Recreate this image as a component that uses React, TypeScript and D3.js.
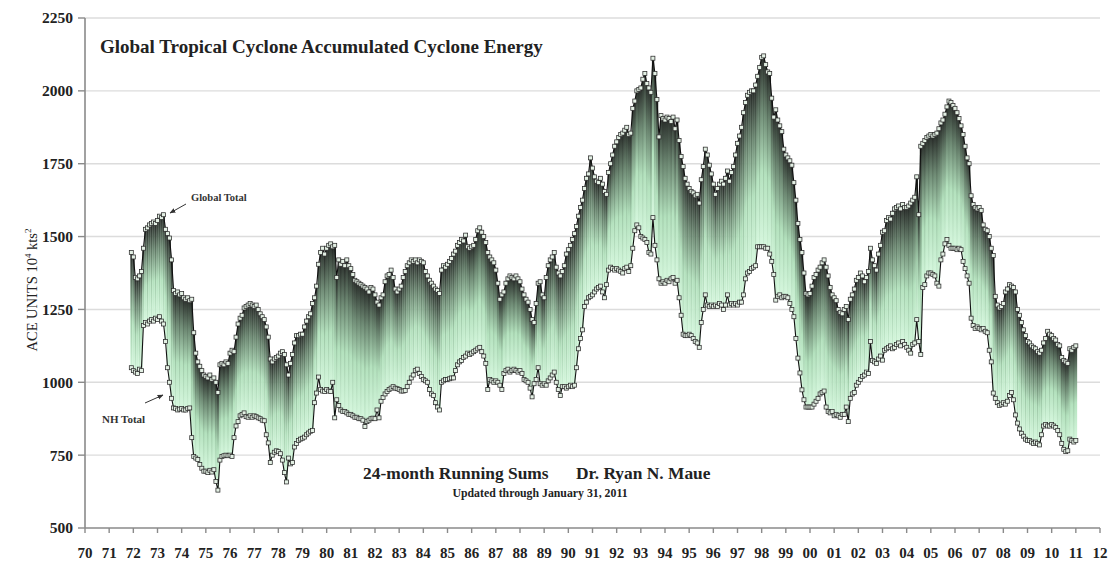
import React from "react";
import * as d3 from "d3";

// First month of data: December 1971 (decimal year of that month's slot)
const startYear = 1971 + 11 / 12;

// Global total ACE, 24-month running sums (monthly), Dec 1971 .. Jan 2011
const globalAce: number[] = [
  1445,
  1430, 1360, 1355, 1365, 1380, 1460, 1525, 1530, 1540, 1545, 1550, 1545, // 1972
  1555, 1570, 1565, 1575, 1525, 1510, 1495, 1420, 1315, 1305, 1310, 1300, // 1973
  1305, 1290, 1285, 1290, 1280, 1285, 1170, 1100, 1070, 1055, 1040, 1025, // 1974
  1020, 1015, 1025, 1010, 1015, 1000, 965, 1060, 1065, 1060, 1070, 1065, // 1975
  1100, 1110, 1105, 1155, 1200, 1220, 1230, 1255, 1260, 1265, 1270, 1265, // 1976
  1260, 1265, 1250, 1235, 1225, 1215, 1190, 1155, 1080, 1070, 1080, 1085, // 1977
  1090, 1100, 1105, 1095, 1060, 1025, 1065, 1095, 1135, 1160, 1160, 1165, // 1978
  1165, 1190, 1210, 1225, 1235, 1270, 1290, 1330, 1405, 1445, 1460, 1440, // 1979
  1460, 1470, 1475, 1465, 1470, 1360, 1420, 1405, 1415, 1400, 1420, 1400, // 1980
  1390, 1370, 1350, 1345, 1340, 1335, 1330, 1325, 1320, 1310, 1325, 1320, // 1981
  1300, 1275, 1265, 1290, 1300, 1345, 1365, 1370, 1385, 1360, 1320, 1310, // 1982
  1320, 1330, 1360, 1380, 1400, 1410, 1420, 1415, 1420, 1410, 1420, 1415, // 1983
  1410, 1380, 1365, 1350, 1340, 1330, 1320, 1315, 1305, 1385, 1400, 1395, // 1984
  1405, 1415, 1425, 1440, 1450, 1470, 1480, 1490, 1485, 1505, 1465, 1460, // 1985
  1465, 1470, 1490, 1520, 1530, 1515, 1500, 1480, 1445, 1430, 1420, 1410, // 1986
  1385, 1340, 1285, 1300, 1310, 1340, 1355, 1365, 1360, 1355, 1365, 1355, // 1987
  1345, 1320, 1300, 1285, 1275, 1250, 1215, 1205, 1270, 1340, 1345, 1300, // 1988
  1290, 1360, 1400, 1420, 1430, 1445, 1395, 1375, 1365, 1380, 1400, 1440, // 1989
  1455, 1470, 1490, 1510, 1535, 1570, 1600, 1625, 1665, 1700, 1715, 1770, // 1990
  1735, 1705, 1690, 1685, 1700, 1680, 1655, 1645, 1720, 1750, 1780, 1810, // 1991
  1825, 1840, 1850, 1855, 1865, 1875, 1850, 1855, 1940, 1965, 2000, 2005, // 1992
  2010, 2040, 2060, 2025, 2010, 1995, 2112, 2060, 1970, 1842, 1915, 1905, // 1993
  1900, 1910, 1905, 1895, 1910, 1870, 1900, 1830, 1775, 1740, 1700, 1680, // 1994
  1665, 1655, 1650, 1640, 1645, 1615, 1695, 1740, 1800, 1780, 1745, 1715, // 1995
  1680, 1645, 1665, 1680, 1690, 1680, 1700, 1725, 1690, 1720, 1740, 1780, // 1996
  1820, 1845, 1875, 1925, 1960, 1985, 1995, 2000, 2000, 2020, 2050, 2080, // 1997
  2115, 2120, 2090, 2065, 2060, 1975, 1910, 1935, 1900, 1880, 1860, 1800, // 1998
  1780, 1770, 1760, 1745, 1685, 1625, 1545, 1490, 1445, 1375, 1305, 1300, // 1999
  1305, 1330, 1360, 1370, 1385, 1395, 1410, 1420, 1395, 1365, 1325, 1300, // 2000
  1290, 1280, 1250, 1240, 1235, 1250, 1260, 1215, 1285, 1300, 1320, 1350, // 2001
  1360, 1375, 1365, 1345, 1360, 1380, 1460, 1420, 1400, 1385, 1440, 1470, // 2002
  1515, 1520, 1555, 1565, 1560, 1580, 1595, 1600, 1605, 1595, 1610, 1600, // 2003
  1600, 1605, 1615, 1625, 1635, 1705, 1575, 1810, 1820, 1830, 1840, 1845, // 2004
  1850, 1845, 1850, 1855, 1870, 1890, 1900, 1920, 1945, 1965, 1960, 1950, // 2005
  1940, 1925, 1905, 1880, 1850, 1810, 1770, 1750, 1640, 1610, 1600, 1595, // 2006
  1600, 1590, 1540, 1525, 1520, 1500, 1460, 1435, 1295, 1265, 1255, 1260, // 2007
  1270, 1310, 1320, 1335, 1330, 1325, 1310, 1250, 1230, 1205, 1180, 1160, // 2008
  1140, 1135, 1125, 1120, 1115, 1105, 1100, 1110, 1135, 1150, 1175, 1165, // 2009
  1160, 1150, 1145, 1130, 1125, 1085, 1075, 1070, 1065, 1115, 1110, 1120, // 2010
  1125, // Jan 2011
];

// Northern Hemisphere total ACE, same months
const nhAce: number[] = [
  1050,
  1040, 1035, 1030, 1045, 1040, 1195, 1205, 1200, 1210, 1215, 1210, 1220, // 1972
  1215, 1225, 1210, 1200, 1140, 1050, 1000, 945, 912, 910, 905, 908, // 1973
  910, 905, 905, 910, 912, 810, 745, 740, 735, 718, 705, 695, // 1974
  695, 690, 698, 692, 700, 660, 630, 733, 745, 748, 750, 748, // 1975
  750, 745, 810, 850, 865, 885, 890, 895, 882, 880, 885, 880, // 1976
  885, 882, 878, 875, 870, 868, 820, 792, 725, 750, 760, 765, // 1977
  762, 755, 733, 690, 658, 740, 720, 725, 778, 790, 800, 805, // 1978
  808, 812, 820, 826, 832, 835, 930, 963, 1018, 975, 970, 968, // 1979
  975, 970, 968, 1000, 878, 940, 920, 905, 900, 900, 895, 890, // 1980
  890, 885, 880, 880, 875, 875, 870, 848, 865, 870, 875, 877, // 1981
  875, 905, 878, 935, 948, 960, 968, 975, 980, 985, 980, 978, // 1982
  975, 970, 970, 972, 985, 1000, 1015, 1025, 1040, 1045, 1030, 1020, // 1983
  1010, 1005, 1000, 975, 960, 955, 930, 915, 905, 1000, 1005, 1010, // 1984
  1010, 1012, 1015, 1015, 1040, 1060, 1070, 1075, 1085, 1090, 1100, 1095, // 1985
  1100, 1105, 1110, 1115, 1120, 1105, 1090, 1065, 975, 1010, 1005, 1000, // 1986
  1005, 1000, 990, 975, 1030, 1040, 1045, 1035, 1040, 1045, 1040, 1035, // 1987
  1040, 1030, 1010, 1005, 1000, 980, 950, 995, 1010, 1050, 995, 990, // 1988
  995, 990, 1005, 1015, 1025, 1035, 1000, 975, 955, 985, 985, 980, // 1989
  985, 990, 985, 990, 1050, 1115, 1150, 1180, 1260, 1275, 1290, 1295, // 1990
  1300, 1310, 1320, 1325, 1330, 1310, 1290, 1335, 1385, 1395, 1390, 1385, // 1991
  1390, 1385, 1380, 1375, 1390, 1395, 1380, 1400, 1460, 1520, 1540, 1530, // 1992
  1500, 1495, 1490, 1480, 1445, 1440, 1565, 1470, 1420, 1355, 1340, 1345, // 1993
  1340, 1350, 1345, 1355, 1360, 1340, 1350, 1290, 1230, 1165, 1160, 1160, // 1994
  1165, 1160, 1150, 1140, 1135, 1120, 1205, 1250, 1300, 1265, 1260, 1265, // 1995
  1260, 1265, 1260, 1270, 1265, 1250, 1265, 1300, 1265, 1270, 1265, 1270, // 1996
  1265, 1275, 1275, 1300, 1355, 1375, 1380, 1390, 1395, 1400, 1465, 1465, // 1997
  1465, 1465, 1460, 1460, 1440, 1415, 1370, 1282, 1295, 1300, 1290, 1295, // 1998
  1295, 1290, 1270, 1250, 1225, 1150, 1083, 1032, 974, 940, 915, 915, // 1999
  915, 915, 925, 935, 945, 960, 965, 970, 915, 900, 895, 900, // 2000
  885, 890, 885, 880, 890, 890, 915, 865, 945, 960, 965, 990, // 2001
  1000, 1010, 1020, 1025, 1035, 1030, 1140, 1075, 1070, 1065, 1080, 1090, // 2002
  1076, 1110, 1115, 1120, 1125, 1115, 1120, 1130, 1135, 1125, 1140, 1130, // 2003
  1120, 1110, 1100, 1130, 1135, 1215, 1140, 1095, 1325, 1335, 1365, 1375, // 2004
  1375, 1370, 1365, 1340, 1330, 1420, 1440, 1475, 1490, 1470, 1460, 1460, // 2005
  1460, 1455, 1460, 1455, 1415, 1390, 1365, 1340, 1220, 1195, 1185, 1190, // 2006
  1185, 1180, 1185, 1175, 1170, 1110, 1070, 963, 945, 930, 920, 925, // 2007
  930, 925, 935, 955, 965, 940, 888, 860, 840, 825, 815, 805, // 2008
  800, 800, 795, 790, 795, 790, 785, 820, 850, 855, 850, 850, // 2009
  855, 850, 845, 835, 820, 790, 770, 762, 765, 805, 800, 795, // 2010
  800, // Jan 2011
];

const yTicks: number[] = [500, 750, 1000, 1250, 1500, 1750, 2000, 2250];
const xTickYears: number[] = d3.range(1970, 2013);
const xTickLabels: string[] = xTickYears.map((y) => String(y % 100).padStart(2, "0"));

const W = 1110;
const H = 562;
const FONT = "'Liberation Serif', 'DejaVu Serif', serif";

export default function App() {
  const x = d3.scaleLinear().domain([1970, 2012]).range([85, 1100]);
  const y = d3.scaleLinear().domain([500, 2250]).range([528, 18]);

  const pts = globalAce.map((g, i) => ({ t: startYear + i / 12, g, n: nhAce[i] }));
  const monthW = x(1970 + 1 / 12) - x(1970);

  const lineG = d3.line<any>().x((d) => x(d.t)).y((d) => y(d.g));
  const lineN = d3.line<any>().x((d) => x(d.t)).y((d) => y(d.n));
  const m = 4;

  return (
    <svg
      width={W}
      height={H}
      style={{ position: "absolute", left: 0, top: 0, background: "#fff" }}
      fontFamily={FONT}
    >
      <defs>
        <linearGradient id="fillGrad" x1="0" y1="0" x2="0" y2="1">
          <stop offset="0%" stopColor="#2a2e2b" />
          <stop offset="28%" stopColor="#6f8b75" />
          <stop offset="60%" stopColor="#b4e2be" />
          <stop offset="100%" stopColor="#d6f7de" />
        </linearGradient>
        <linearGradient id="stripeGrad" x1="0" y1="0" x2="0" y2="1">
          <stop offset="0%" stopColor="#111" />
          <stop offset="55%" stopColor="#4c6a52" />
          <stop offset="100%" stopColor="#a8d8b2" />
        </linearGradient>
        <marker id="arrow" viewBox="0 0 10 10" refX="9" refY="5" markerWidth="6" markerHeight="6" orient="auto">
          <path d="M0,1 L10,5 L0,9 z" fill="#333" />
        </marker>
      </defs>

      {/* gridlines */}
      {yTicks.slice(1).map((v) => (
        <line key={"g" + v} x1={x(1970)} x2={x(2012)} y1={y(v)} y2={y(v)} stroke="#dcdcdc" strokeWidth={1.4} />
      ))}

      {/* vertical gradient bars between global & NH */}
      {pts.map((d, i) => (
        <rect
          key={"b" + i}
          x={x(d.t) - monthW / 2}
          y={y(d.g)}
          width={monthW + 0.3}
          height={Math.max(0.5, y(d.n) - y(d.g))}
          fill="url(#fillGrad)"
        />
      ))}
      {pts.map((d, i) =>
        i % 2 === 0 ? (
          <rect
            key={"s" + i}
            x={x(d.t) - 0.4}
            y={y(d.g)}
            width={0.8}
            height={Math.max(0.5, y(d.n) - y(d.g))}
            fill="url(#stripeGrad)"
            opacity={0.3}
          />
        ) : null
      )}

      {/* lines */}
      <path d={lineG(pts) || ""} fill="none" stroke="#111" strokeWidth={1.1} />
      <path d={lineN(pts) || ""} fill="none" stroke="#111" strokeWidth={1.1} />

      {/* markers */}
      {pts.map((d, i) => (
        <g key={"m" + i}>
          <rect x={x(d.t) - m / 2} y={y(d.g) - m / 2} width={m} height={m} fill="#e3f0e4" stroke="#2a2a2a" strokeWidth={0.75} />
          <rect x={x(d.t) - m / 2} y={y(d.n) - m / 2} width={m} height={m} fill="#e3f0e4" stroke="#2a2a2a" strokeWidth={0.75} />
        </g>
      ))}

      {/* axes */}
      <line x1={x(1970)} x2={x(1970)} y1={y(2250)} y2={y(500)} stroke="#8a8a8a" strokeWidth={1.6} />
      <line x1={x(1970)} x2={x(2012)} y1={y(500)} y2={y(500)} stroke="#8a8a8a" strokeWidth={1.6} />
      {yTicks.map((v) => (
        <g key={"yt" + v}>
          <line x1={x(1970) - 7} x2={x(1970)} y1={y(v)} y2={y(v)} stroke="#8a8a8a" strokeWidth={1.4} />
          <text x={x(1970) - 12} y={y(v)} dy="0.35em" textAnchor="end" fontSize={15.5} fontWeight="bold" fill="#222">
            {v}
          </text>
        </g>
      ))}
      {xTickYears.map((yr, i) => (
        <g key={"xt" + yr}>
          <line x1={x(yr)} x2={x(yr)} y1={y(500)} y2={y(500) + 5} stroke="#8a8a8a" strokeWidth={1.4} />
          <text x={x(yr)} y={y(500) + 30} textAnchor="middle" fontSize={15} fontWeight="bold" fill="#222">
            {xTickLabels[i]}
          </text>
        </g>
      ))}

      {/* y axis title */}
      <text transform={`translate(37, 290) rotate(-90)`} textAnchor="middle" fontSize={14.5} fill="#222">
        ACE UNITS 10
        <tspan fontSize={9} dy={-6}>4</tspan>
        <tspan dy={6}> kts</tspan>
        <tspan fontSize={9} dy={-6}>2</tspan>
      </text>

      {/* titles */}
      <text x={100} y={53} fontSize={19} fontWeight="bold" fill="#222">
        Global Tropical Cyclone Accumulated Cyclone Energy
      </text>
      <text x={363} y={479} fontSize={17.4} fontWeight="bold" fill="#222">
        24-month Running Sums
      </text>
      <text x={576} y={479} fontSize={17.4} fontWeight="bold" fill="#222">
        Dr. Ryan N. Maue
      </text>
      <text x={540} y={497} textAnchor="middle" fontSize={11.8} fontWeight="bold" fill="#222">
        Updated through January 31, 2011
      </text>

      {/* annotations */}
      <text x={191} y={201} fontSize={10.5} fontWeight="bold" fill="#333">Global Total</text>
      <line x1={186} y1={204} x2={170} y2={213} stroke="#333" strokeWidth={1} markerEnd="url(#arrow)" />
      <text x={102} y={423} fontSize={11} fontWeight="bold" fill="#333">NH Total</text>
      <line x1={145} y1={403} x2={163} y2={395} stroke="#333" strokeWidth={1} markerEnd="url(#arrow)" />
    </svg>
  );
}
